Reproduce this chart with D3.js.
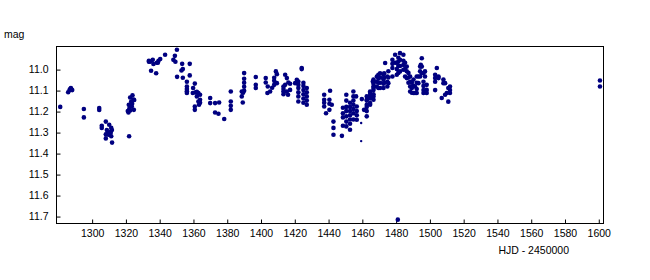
<!DOCTYPE html>
<html>
<head>
<meta charset="utf-8">
<script src="https://cdn.jsdelivr.net/npm/d3@7"></script>
<style>
  body { margin: 0; background: #fff; }
  text { font-family: "Liberation Sans", Arial, sans-serif; }
</style>
</head>
<body>
<div id="wrapper"></div>
<script>
// observations: [HJD - 2450000, mag]
const obsA = [[1281.4,11.18],[1286.1,11.11],[1286.9,11.10],[1287.7,11.09],[1288.5,11.10],[1287.3,11.095],[1287.9,11.094],
  [1295.4,11.19],[1295.4,11.23],[1304.5,11.185],[1304.5,11.195]]
const obsB = [[1306,11.27],[1306,11.28],[1308.4,11.25],[1310.4,11.265],[1311.6,11.28],[1309,11.29],[1311,11.30],[1308.4,11.31],
  [1310,11.313],[1311.6,11.32],[1308.4,11.33],[1312.1,11.35],[1309.6,11.305],[1312,11.29],[1311.3,11.303],[1322.2,11.32]]
const obsC = [[1324.2,11.125],[1322.8,11.135],[1324.8,11.145],[1323.4,11.155],[1325.2,11.147],[1322,11.17],[1323.8,11.178],
  [1322.4,11.186],[1325,11.194],[1321.4,11.20],[1322.8,11.197],[1321.8,11.207],[1324,11.165]]
const obsD = [[1333.9,10.96],[1333.9,10.965],[1336.2,10.956],[1336.6,10.976],[1338.6,10.97],[1339.6,10.96],[1340.6,10.952],
  [1343.5,10.932],[1335.2,11.008],[1338.2,11.02],[1339.2,10.97],[1334.6,10.965]]
const obsE = [[1350.5,10.908],[1349.3,10.937],[1348.4,10.956],[1349.6,10.965],[1353.6,10.975],[1358.1,10.975],[1354,11.0],
  [1353.2,11.007],[1350.6,11.037],[1354,11.041],[1358.1,11.03],[1356.4,11.06],[1356.4,11.083],[1356.4,11.095],[1356.4,11.105],
  [1356.4,11.114],[1361.1,11.069],[1359.9,11.114],[1361.5,11.111],[1363.2,11.114],[1362.3,11.13],[1363.2,11.154],[1363.6,11.17],
  [1361.1,11.178],[1361.1,11.194],[1364.2,11.122],[1364.2,11.146],[1364.2,11.16],[1362.3,11.108],[1360.1,11.09]]
const obsF = [[1370.2,11.138],[1370.2,11.162],[1373.1,11.162],[1375.5,11.159],[1373.1,11.207],[1375.1,11.213],[1378.5,11.238],
  [1382.4,11.107],[1382.4,11.154],[1382.4,11.175],[1382.4,11.194],
  [1390.3,11.019],[1390.3,11.046],[1390.3,11.065],[1390.3,11.084],[1390.3,11.103],[1388.9,11.107],[1388.9,11.13],[1389.5,11.159],
  [1389.7,11.113],[1397.2,11.038],[1397.2,11.075],[1397.2,11.09]]
const obsG = [[1403.1,11.043],[1403.1,11.064],[1404.3,11.083],[1405.7,11.107],[1404.1,11.114],[1409.1,11.011],[1409.7,11.024],
  [1408.1,11.041],[1408.1,11.056],[1408.1,11.075],[1409.7,11.067],[1406.9,11.089],
  [1414.6,11.027],[1415.6,11.043],[1416.5,11.064],[1413.6,11.083],[1413.6,11.095],[1413.6,11.107],[1413.6,11.12],[1415.6,11.107],
  [1417.5,11.099],[1420.5,11.067],[1421.5,11.051],[1424.4,10.995],[1422.4,11.059],[1422.4,11.075],[1422.4,11.09],[1422.4,11.11],
  [1422.4,11.13],[1422.4,11.154],[1425.4,11.065],[1425.4,11.08],[1425.4,11.1],[1425.4,11.12],[1425.4,11.14],[1425.4,11.16],
  [1427.4,11.17],[1414.6,11.075],[1416.3,11.122],[1414,11.108],[1417.5,11.07],[1427.4,11.09],[1427.4,11.11],[1427.4,11.13],
  [1427.4,11.15],[1424.4,11.0]]
const obsH = [[1437.7,11.122],[1437.7,11.146],[1437.7,11.16],[1437.7,11.178],[1438.8,11.21],[1441.2,11.103],[1440.8,11.146],
  [1440.8,11.165],[1440.8,11.194],[1442.2,11.17],[1443.2,11.25],[1443.2,11.28],[1443.2,11.313],[1448.2,11.318],
  [1448.8,11.184],[1448.8,11.21],[1448.8,11.23],[1448.8,11.27],[1450.8,11.122],[1450.8,11.15],[1450.8,11.18],[1450.8,11.2],
  [1450.8,11.225],[1450.8,11.25],[1450.8,11.273],[1453,11.16],[1453,11.18],[1453,11.2],[1453,11.22],[1453,11.24],[1453,11.26],
  [1453,11.289],[1455,11.107],[1455,11.13],[1455,11.15],[1455,11.17],[1455,11.19],[1455,11.21],[1455,11.24],[1456.6,11.13],
  [1457,11.178],[1457,11.2],[1457,11.22],[1457,11.241],[1460,11.143],[1461.3,11.194],[1462.9,11.13],[1462.9,11.15],
  [1462.9,11.17],[1462.9,11.2],[1462.9,11.146],[1462.9,11.18],[1462.9,11.225]]
const obsI = [[1464.9,11.107],[1464.9,11.125],[1464.9,11.14],[1464.9,11.162],[1464.9,11.113],[1464.9,11.135],[1464.9,11.17],
  [1466.5,11.059],[1466.9,11.083],[1466.9,11.1],[1466.9,11.13],[1466.9,11.05],[1466.9,11.07],[1466.9,11.09],[1466.9,11.12],
  [1466.9,11.146],[1468.9,11.035],[1468.9,11.06],[1468.9,11.083],[1469.8,11.027],[1469.8,11.045],[1469.8,11.065],[1469.8,11.09],
  [1470.8,11.09],[1470.8,11.02],[1470.8,11.04],[1470.8,11.065],[1472.8,11.027],[1472.8,11.05],[1472.8,11.07],[1472.8,11.09],
  [1473.2,11.02],[1473.2,11.04],[1473.2,11.065],[1473.8,10.971],[1475.1,11.035],[1475.1,11.06],[1475.1,11.083],
  [1475.7,11.01],[1475.7,11.04],[1475.7,11.067]]
const obsJ = [[1478.1,10.956],[1478.1,10.975],[1478.1,10.995],[1478.1,11.035],[1479.7,10.932],[1479.7,10.97],[1480.7,10.97],
  [1480.7,11.0],[1480.7,11.027],[1481.6,10.946],[1481.6,10.965],[1481.6,10.985],[1481.6,11.018],[1482.6,10.924],[1482.6,10.956],
  [1482.6,10.985],[1482.6,11.011],[1484.6,10.932],[1484.6,10.96],[1484.6,10.98],[1484.6,11.003],[1485.6,10.97],[1485.6,11.0],
  [1485.6,11.035],[1486.6,10.988],[1486.6,11.01],[1486.6,11.043],[1487.6,11.018],[1487.6,11.04],[1487.6,11.065],
  [1488.6,11.035],[1488.6,11.06],[1488.6,11.083],[1488.6,11.107],[1489.6,11.065],[1489.6,11.09],[1489.6,11.113],
  [1490.6,11.05],[1490.6,11.08],[1490.6,11.114],[1491.5,11.083],[1491.5,11.114],[1492.5,11.035],[1492.5,11.065],
  [1492.5,11.095],[1492.5,11.114],[1493.5,11.035],[1493.5,11.067],[1494.5,10.988],[1494.5,11.01],[1494.5,11.035],
  [1495.5,10.948],[1494.9,10.98],[1496.5,11.019],[1497.4,11.011],[1497.4,11.035],[1498.4,11.075],[1498.4,11.099],
  [1495.5,10.988],[1495.5,11.02],[1496.5,11.06],[1496.5,11.08],[1496.5,11.1],[1496.5,11.114],[1498.4,11.114],[1481.3,11.717]]
const obsK = [[1503.4,11.027],[1503.4,11.043],[1503.4,11.06],[1504.4,10.995],[1505.4,11.035],[1505.4,11.043],[1508.3,11.05],
  [1508.3,11.067],[1509.3,11.067],[1503.4,11.1],[1512.2,11.083],[1512.2,11.1],[1512.2,11.114],[1511.2,11.09],[1510.3,11.114],
  [1507.3,11.138],[1511.2,11.155],[1509.3,11.122],[1601,11.054],[1601,11.083]]
// a few fainter / low-weight points drawn smaller
const obsSmall = [[1459.6,11.257],[1459.6,11.343]]

const xTicks = d3.range(1300, 1601, 20)
const yTicks = [11.0, 11.1, 11.2, 11.3, 11.4, 11.5, 11.6, 11.7]

const dataset = [].concat(obsA, obsB, obsC, obsD, obsE, obsF, obsG, obsH, obsI, obsJ, obsK)

let dimensions = {
  width: 650,
  height: 280,
  margin: {
    top: 46,
    right: 47,
    bottom: 57,
    left: 56,
  },
}
dimensions.boundedWidth = dimensions.width
  - dimensions.margin.left
  - dimensions.margin.right
dimensions.boundedHeight = dimensions.height
  - dimensions.margin.top
  - dimensions.margin.bottom

const wrapper = d3.select("#wrapper")
  .append("svg")
    .attr("width", dimensions.width)
    .attr("height", dimensions.height)

const bounds = wrapper.append("g")
    .attr("transform", `translate(${dimensions.margin.left},${dimensions.margin.top})`)

const xAccessor = d => d[0]
const yAccessor = d => d[1]

const xScale = d3.scaleLinear()
  .domain([1278.9, 1602.8])
  .range([0, dimensions.boundedWidth])

// magnitudes: brighter at the top
const yScale = d3.scaleLinear()
  .domain([10.89, 11.733])
  .range([0, dimensions.boundedHeight])

bounds.append("rect")
  .attr("x", 0.5)
  .attr("y", 0.5)
  .attr("width", dimensions.boundedWidth)
  .attr("height", dimensions.boundedHeight)
  .attr("fill", "none")
  .attr("stroke", "#000")

const xAxisGenerator = d3.axisBottom()
  .scale(xScale)
  .tickValues(xTicks)
  .tickSizeInner(-4)
  .tickSizeOuter(0)
  .tickPadding(6)
  .tickFormat(d3.format("d"))

const yAxisGenerator = d3.axisLeft()
  .scale(yScale)
  .tickValues(yTicks)
  .tickSizeInner(-4)
  .tickSizeOuter(0)
  .tickPadding(8)
  .tickFormat(d3.format(".1f"))

const xAxis = bounds.append("g")
  .attr("transform", `translate(0.5,${dimensions.boundedHeight + 0.5})`)
  .call(xAxisGenerator)
const yAxis = bounds.append("g")
  .attr("transform", "translate(0.5,0.5)")
  .call(yAxisGenerator)

for (const axis of [xAxis, yAxis]) {
  axis.select(".domain").remove()
  axis.selectAll("line").attr("stroke", "#000")
  axis.selectAll("text")
    .attr("fill", "#000")
    .style("font-family", "'Liberation Sans', Arial, sans-serif")
    .style("font-size", "10.5px")
}

bounds.append("g")
  .selectAll("circle")
  .data(dataset)
  .join("circle")
    .attr("cx", d => xScale(xAccessor(d)))
    .attr("cy", d => yScale(yAccessor(d)))
    .attr("r", 2.3)
    .attr("fill", "#000080")

bounds.append("g")
  .selectAll("circle")
  .data(obsSmall)
  .join("circle")
    .attr("cx", d => xScale(xAccessor(d)))
    .attr("cy", d => yScale(yAccessor(d)))
    .attr("r", 1.2)
    .attr("fill", "#000080")

wrapper.append("text")
  .attr("x", 4)
  .attr("y", 38)
  .style("font-size", "10.5px")
  .text("mag")

wrapper.append("text")
  .attr("x", 569)
  .attr("y", 254)
  .attr("text-anchor", "end")
  .style("font-size", "10.5px")
  .text("HJD - 2450000")
</script>
</body>
</html>
